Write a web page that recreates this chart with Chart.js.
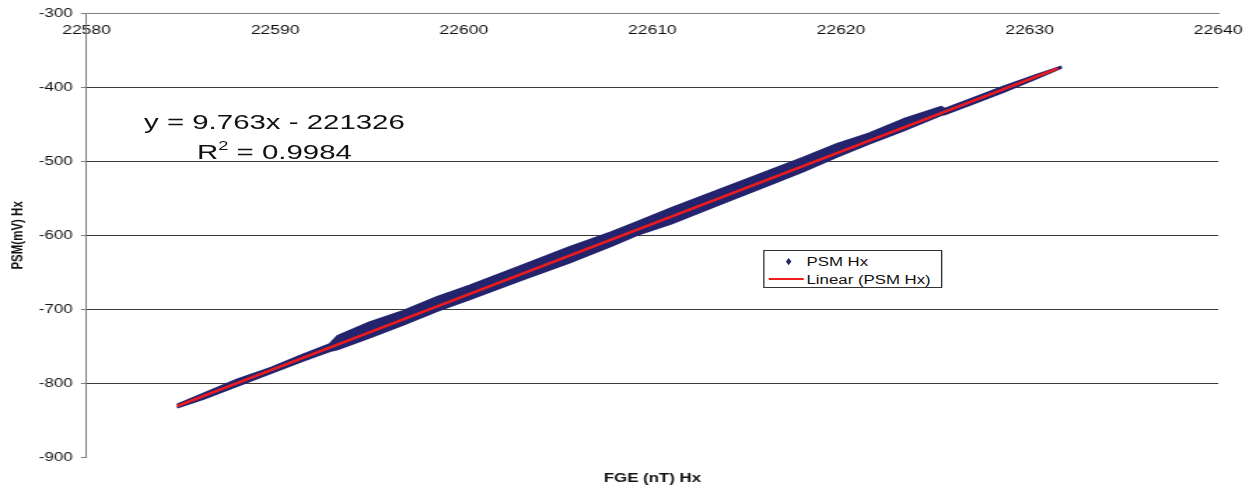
<!DOCTYPE html>
<html>
<head>
<meta charset="utf-8">
<script src="https://cdn.jsdelivr.net/npm/chart.js@4/dist/chart.umd.min.js"></script>
<style>
  html, body { margin: 0; padding: 0; background: #fff; overflow: hidden; }
  /* the reference is a horizontally stretched picture, so draw narrow and stretch */
  #wrap {
    position: relative; width: 897px; height: 490px;
    transform: scaleX(1.4002); transform-origin: 0 0;
    font-family: 'Liberation Sans', Arial, sans-serif;
  }
  #chart-box { position: absolute; left: 0; top: 0; width: 897px; height: 490px; }
  #equation {
    position: absolute; left: 76px; top: 107px; width: 240px;
    text-align: center; font-size: 21px; line-height: 30px; color: #111;
  }
  #equation sup { font-size: 13px; line-height: 0; vertical-align: 9px; }
  #legend {
    position: absolute; left: 545px; top: 250px; width: 126px; height: 36px;
    border: 1px solid #333; background: #fff; font-size: 12px; color: #111;
  }
  #legend .row { position: absolute; left: 30px; height: 14px; line-height: 14px; white-space: nowrap; }
  #legend .diamond {
    position: absolute; left: 15px; top: 8px; width: 4.5px; height: 4.5px;
    background: #24246e; transform: scaleX(0.55) rotate(45deg);
  }
  #legend .redline { position: absolute; left: 3px; top: 27px; width: 25px; height: 2px; background: #ee1c1c; }
</style>
</head>
<body>
<div id="wrap">
  <div id="chart-box"><canvas id="chart"></canvas></div>
  <div id="equation"></div>
  <div id="legend"></div>
</div>
<script>
// 坐标轴范围
const xMin = 22580, xMax = 22640, xStep = 10;
const yMin = -900, yMax = -300, yStep = 100;
const xTitle = 'FGE (nT) Hx';
const yTitle = 'PSM(mV) Hx';

// 散点带：沿 x 的上下边缘
const seriesName = 'PSM Hx';
const bandX = [22584.8, 22586.2, 22588.0, 22589.8, 22591.5, 22592.9, 22593.3, 22595.0, 22596.8, 22598.6,
               22600.3, 22603.0, 22605.6, 22607.8, 22609.2, 22611.0, 22613.6, 22616.2, 22618.0, 22619.8,
               22621.5, 22623.3, 22625.3, 22625.5, 22626.8, 22628.6, 22630.4, 22631.7];
const bandTop = [-828.6, -813.5, -794.3, -778.4, -760.5, -746.8, -736.1, -717.3, -701.9, -683.1,
                 -667.8, -641.4, -616.0, -596.0, -581.9, -563.3, -537.9, -512.5, -495.0, -476.5,
                 -462.2, -443.2, -426.4, -429.2, -416.8, -399.2, -383.0, -372.0];
const bandBottom = [-832.6, -820.7, -803.2, -785.6, -769.0, -756.2, -753.7, -738.0, -720.4, -702.0,
                    -686.3, -660.7, -636.7, -614.5, -599.4, -584.0, -557.8, -531.8, -513.5, -493.6,
                    -476.1, -458.5, -437.6, -436.6, -424.0, -406.4, -387.8, -373.4];

// 线性趋势线
const trendName = 'Linear (PSM Hx)';
const trendX = [22584.8, 22631.5];
const trendY = [-830.6, -374.6];
const eqLine1 = 'y = 9.763x - 221326';
const eqR2 = '0.9984';

const navy = '#24246e';
const red = '#ee1c1c';
const font = "'Liberation Sans', Arial, sans-serif";

const pts = (xs, ys) => xs.map((x, i) => ({ x: x, y: ys[i] }));

new Chart(document.getElementById('chart'), {
    type: 'scatter',
    data: {
        datasets: [
            {
                label: trendName,
                data: pts(trendX, trendY),
                showLine: true,
                borderColor: red,
                borderWidth: 2.5,
                pointRadius: 0,
                order: 0
            },
            {
                label: seriesName,
                data: pts(bandX, bandTop),
                showLine: true,
                borderColor: navy,
                backgroundColor: navy,
                borderWidth: 2,
                borderJoinStyle: 'round',
                pointRadius: 0,
                fill: false,
                order: 1
            },
            {
                label: seriesName + ' low',
                data: pts(bandX, bandBottom),
                showLine: true,
                borderColor: navy,
                backgroundColor: navy,
                borderWidth: 2,
                borderJoinStyle: 'round',
                pointRadius: 0,
                fill: '-1',
                order: 1
            }
        ]
    },
    options: {
        responsive: true,
        maintainAspectRatio: false,
        animation: false,
        layout: { padding: { left: 0, right: 27, top: 9, bottom: 0 } },
        plugins: { legend: { display: false }, tooltip: { enabled: false } },
        scales: {
            x: {
                type: 'linear', position: 'top', min: xMin, max: xMax,
                ticks: {
                    stepSize: xStep, mirror: true, padding: 1.5, maxRotation: 0,
                    color: '#111', font: { family: font, size: 12.5, lineHeight: 2.5 },
                    callback: v => String(v)
                },
                grid: { display: false, drawTicks: false },
                border: { display: true, color: '#808080', width: 1 }
            },
            x2: {
                type: 'linear', position: 'bottom', min: 0, max: 1,
                ticks: { display: false },
                grid: { display: false, drawTicks: false },
                border: { display: false },
                title: {
                    display: true, text: xTitle, color: '#111',
                    font: { family: font, size: 12, weight: 'bold' },
                    padding: { top: 14, bottom: 4 }
                }
            },
            y: {
                type: 'linear', position: 'left', min: yMin, max: yMax,
                ticks: {
                    stepSize: yStep, padding: 6, color: '#111',
                    font: { family: font, size: 12 }
                },
                grid: {
                    color: c => (c.tick.value === yMin || c.tick.value === yMax) ? 'rgba(0,0,0,0)' : '#3a3a3a',
                    tickColor: '#808080', tickLength: 4, lineWidth: 1
                },
                border: { display: true, color: '#808080', width: 1 },
                title: {
                    display: true, text: yTitle, color: '#111',
                    font: { family: font, size: 11.5, weight: 'bold' },
                    padding: { top: 6, bottom: 2 }
                }
            }
        }
    }
});

// 公式文字
document.getElementById('equation').innerHTML =
    eqLine1 + '<br>R<sup>2</sup> = ' + eqR2;

// 图例（放在绘图区内）
document.getElementById('legend').innerHTML =
    '<div class="diamond"></div><div class="row" style="top:4px">' + seriesName + '</div>' +
    '<div class="redline"></div><div class="row" style="top:22px">' + trendName + '</div>';
</script>
</body>
</html>
